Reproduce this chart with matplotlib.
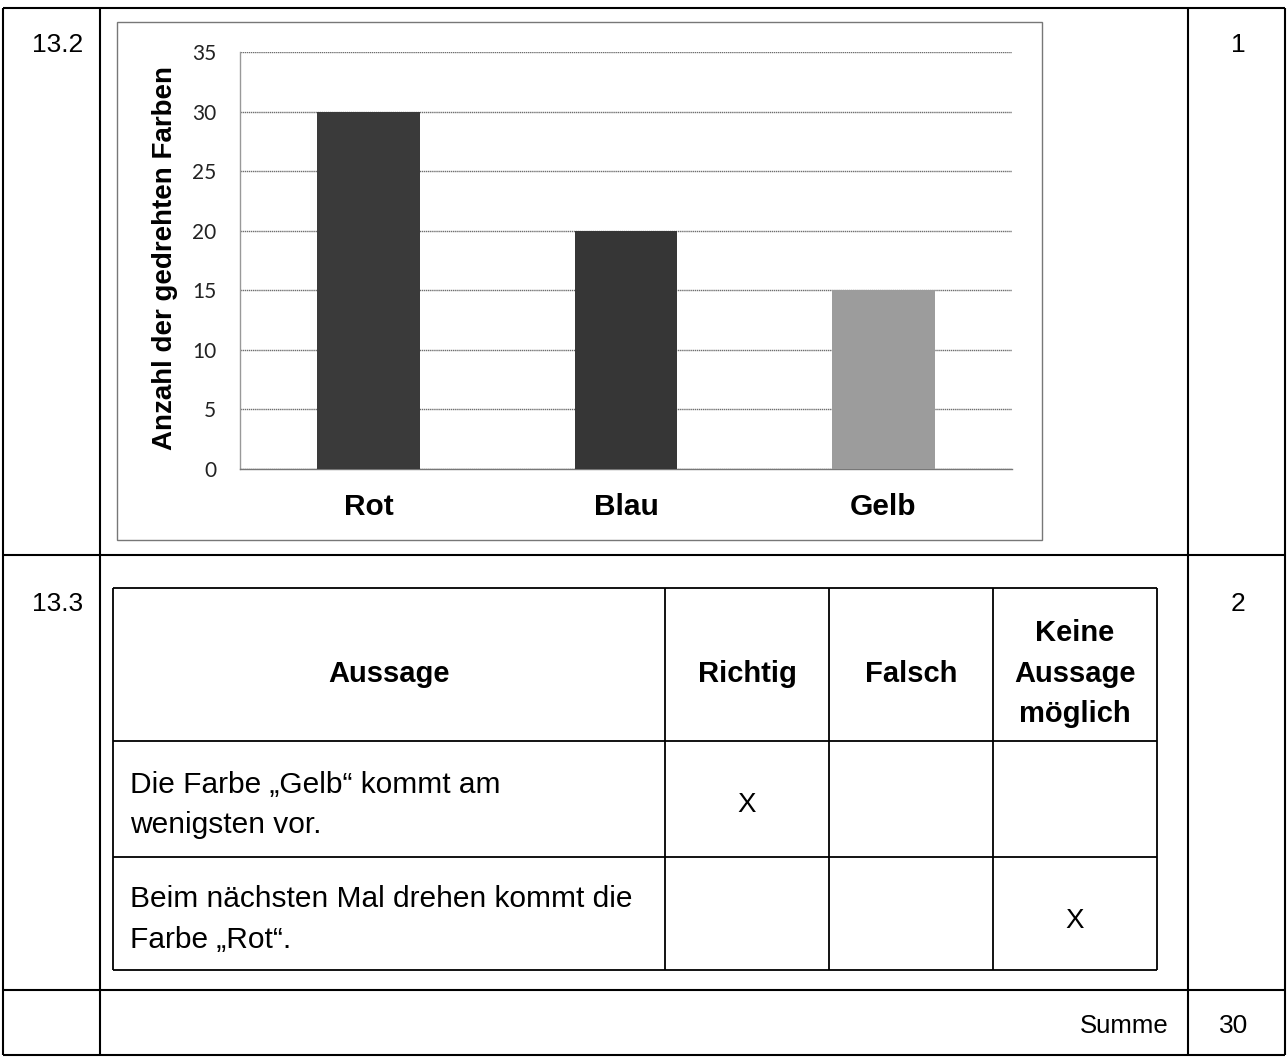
import matplotlib
matplotlib.use("Agg")
import matplotlib.pyplot as plt
import matplotlib.transforms as mtransforms

# chart data
categories = ["Rot", "Blau", "Gelb"]
counts = [30, 20, 15]
bar_colors = ["#3a3a3a", "#363636", "#9c9c9c"]
y_ticks = [0, 5, 10, 15, 20, 25, 30, 35]
y_label = "Anzahl der gedrehten Farben"

# table data
task_numbers = ["13.2", "13.3"]
task_points = ["1", "2"]
header = ["Aussage", "Richtig", "Falsch", "Keine\nAussage\nmöglich"]
statements = ["Die Farbe \u201eGelb\u201c kommt am\nwenigsten vor.",
              "Beim nächsten Mal drehen kommt die\nFarbe \u201eRot\u201c."]
answers = [1, 3]  # column index with the X
total_label = "Summe"
total_points = "30"

W, H = 1288, 1060
TEXT = ["Liberation Sans", "DejaVu Sans"]

fig = plt.figure(figsize=(W / 100, H / 100), dpi=100)
bg = fig.add_axes([0, 0, 1, 1])
bg.set_xlim(0, W)
bg.set_ylim(H, 0)
bg.axis("off")


def hline(y, x0, x1, lw=1.5, color="black"):
    bg.plot([x0, x1], [y, y], color=color, lw=lw, solid_capstyle="butt")


def vline(x, y0, y1, lw=1.5, color="black"):
    bg.plot([x, x], [y0, y1], color=color, lw=lw, solid_capstyle="butt")


# outer grid of the answer sheet
for y in (8, 555, 990, 1055):
    hline(y, 3, 1285)
for x in (3, 100, 1188, 1285):
    vline(x, 8, 1055)

# chart frame
bg.add_patch(plt.Rectangle((117, 22), 925, 518, fill=False,
                           edgecolor="#777777", lw=1))

# task numbers and points
rows_y = [45, 604]
for num, pts, y in zip(task_numbers, task_points, rows_y):
    bg.text(58, y, num, fontsize=19, family=TEXT, ha="center", va="center")
    bg.text(1238, y, pts, fontsize=19, family=TEXT, ha="center", va="center")
bg.text(1169, 1026, total_label, fontsize=18.5, family=TEXT, ha="right", va="center")
bg.text(1234, 1026, total_points, fontsize=19, family=TEXT, ha="center", va="center")

# statement table
col_x = [113, 665, 829, 993, 1157]
row_y = [588, 741, 857, 970]
for x in col_x:
    vline(x, row_y[0], row_y[-1], lw=1.3)
for y in row_y:
    hline(y, col_x[0], col_x[-1], lw=1.3)

for i, h in enumerate(header):
    cx = (col_x[i] + col_x[i + 1]) / 2
    bg.text(cx, (row_y[0] + row_y[1]) / 2 + 9, h, fontsize=21, family=TEXT,
            fontweight="bold", ha="center", va="center", linespacing=1.55)

for r, (s, a) in enumerate(zip(statements, answers)):
    y0, y1 = row_y[r + 1], row_y[r + 2]
    bg.text(130, (y0 + y1) / 2 + 6, s, fontsize=21.5, family=TEXT,
            ha="left", va="center", linespacing=1.55)
    cx = (col_x[a] + col_x[a + 1]) / 2
    xy = (y0 + y1) / 2 + (8 if r == 1 else 6)
    bg.text(cx, xy, "X", fontsize=20, family=TEXT, ha="center", va="center")

# bar chart
ax_l, ax_r, ax_b, ax_t = 240, 1012, 469, 52
ax = fig.add_axes([ax_l / W, 1 - ax_b / H, (ax_r - ax_l) / W, (ax_b - ax_t) / H])
x = range(len(categories))
ax.bar(x, counts, width=0.4, color=bar_colors, zorder=3)
ax.set_xlim(-0.5, 2.5)
ax.set_ylim(0, 35)
ax.set_yticks(y_ticks)
ax.set_yticklabels([str(t) for t in y_ticks], fontsize=15, family=["Lato", "DejaVu Sans"],
                   color="#222222")
ax.tick_params(axis="y", length=0, pad=17)
ax.set_xticks([])
ax.grid(axis="y", color="#6e6e6e", lw=1, linestyle=(0, (1, 0.5)), zorder=0)
for side in ("top", "right"):
    ax.spines[side].set_visible(False)
ax.spines["left"].set_color("#999999")
ax.spines["bottom"].set_color("#777777")
ax.spines["left"].set_linewidth(1)
ax.spines["bottom"].set_linewidth(1)

trans = mtransforms.blended_transform_factory(ax.transData, ax.transAxes)
for i, c in enumerate(categories):
    ax.text(i, -0.09, c, transform=trans, fontsize=21.5, family=TEXT,
            fontweight="bold", ha="center", va="center")

ax.set_ylabel(y_label, fontsize=20, family=TEXT, fontweight="bold")
ax.yaxis.set_label_coords(-0.08, 0.505)

fig.savefig("out.png", dpi=100)
